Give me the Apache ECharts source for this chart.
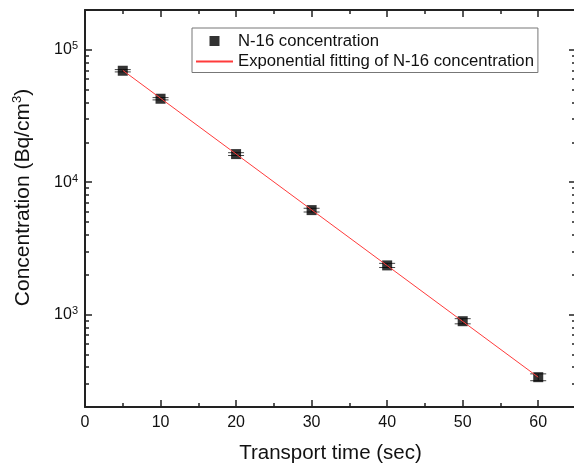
<!DOCTYPE html>
<html>
<head>
<meta charset="utf-8">
<script src="https://cdn.jsdelivr.net/npm/echarts@6.0.0/dist/echarts.min.js"></script>
<style>
    body { margin: 0; background: #fff; }
    #main { width: 574px; height: 467px; }
</style>
</head>
<body>
<div id="main"></div>
<script>
// N-16 measured points
var times = [5, 10, 20, 30, 40, 50, 60];
var conc = [69500, 42700, 16300, 6150, 2350, 890, 336];
var errs = [1400, 850, 400, 200, 85, 40, 20];
// exponential fit at both ends
var fitTimes = [5, 60];
var fitConc = [70000, 336];
// axis ticks
var xMajor = [0, 10, 20, 30, 40, 50, 60];
var xMinor = [5, 15, 25, 35, 45, 55];
var yMajor = [1000, 10000, 100000];
var yMinor = [200, 300, 400, 500, 600, 700, 800, 900,
    2000, 3000, 4000, 5000, 6000, 7000, 8000, 9000,
    20000, 30000, 40000, 50000, 60000, 70000, 80000, 90000, 200000];

(function () {
    var font = 'Liberation Sans, Arial, sans-serif';
    var ink = '#222';
    var fitColor = '#ff3b3b';
    var myChart = echarts.init(document.getElementById('main'));

    var pts = [];
    for (var i = 0; i < times.length; i++) {
        pts.push([times[i], conc[i], errs[i]]);
    }
    var fit = [];
    for (var j = 0; j < fitTimes.length; j++) {
        fit.push([fitTimes[j], fitConc[j]]);
    }

    // box frame: one axis for the long ticks, an overlay for the short ones
    function xAxis(pos, ticks, len, main) {
        return {
            type: 'value', position: pos, min: 0, max: 65,
            axisLine: { show: main, onZero: false, lineStyle: { color: ink, width: 2 } },
            axisTick: { inside: true, length: len, customValues: ticks, lineStyle: { color: ink, width: 1.5 } },
            axisLabel: { show: false },
            splitLine: { show: false }
        };
    }
    // onZero off, otherwise every y axis snaps onto x = 0
    function yAxis(pos, ticks, len, main) {
        return {
            type: 'log', logBase: 10, position: pos, min: 200, max: 200000,
            axisLine: { show: main, onZero: false, lineStyle: { color: ink, width: 2 } },
            axisTick: { inside: true, length: len, customValues: ticks, lineStyle: { color: ink, width: 1.5 } },
            axisLabel: { show: false },
            splitLine: { show: false }
        };
    }

    var bottom = xAxis('bottom', xMajor, 7, true);
    bottom.axisLabel = {
        show: true, customValues: xMajor, margin: 8,
        color: '#111', fontSize: 16, fontFamily: font
    };
    bottom.name = 'Transport time (sec)';
    bottom.nameLocation = 'middle';
    bottom.nameGap = 36;
    bottom.nameTextStyle = { color: '#111', fontSize: 20.5, fontFamily: font };

    var left = yAxis('left', yMajor, 7, true);
    left.axisLabel = {
        show: true, customValues: yMajor, margin: 7, color: '#111', fontFamily: font,
        formatter: function (v) {
            return '{b|10}{s|' + Math.round(Math.log(v) / Math.LN10) + '}';
        },
        rich: {
            b: { fontSize: 16, lineHeight: 18, color: '#111', fontFamily: font },
            s: { fontSize: 11, lineHeight: 8, verticalAlign: 'top', color: '#111', fontFamily: font }
        }
    };
    left.name = '{n|Concentration (Bq/cm}{s|3}{n|)}';
    left.nameLocation = 'middle';
    left.nameGap = 50;
    left.nameTextStyle = {
        padding: [0, 0, 0, 22],
        rich: {
            n: { fontSize: 21, lineHeight: 24, color: '#111', fontFamily: font },
            s: { fontSize: 13, lineHeight: 12, verticalAlign: 'top', color: '#111', fontFamily: font }
        }
    };

    option = {
        animation: false,
        backgroundColor: '#fff',
        grid: { left: 85, right: -2, top: 10, bottom: 60, outerBoundsMode: 'none' },
        legend: {
            orient: 'vertical',
            left: 192,
            top: 28,
            itemWidth: 37,
            itemHeight: 10,
            itemGap: 2.5,
            padding: [4, 4, 2, 3],
            borderColor: '#777',
            borderWidth: 1,
            symbolKeepAspect: true,
            textStyle: { fontSize: 16.7, lineHeight: 18, color: '#111', fontFamily: font },
            data: [
                { name: 'N-16 concentration', icon: 'path://M0,0h10v10h-10z', itemStyle: { color: '#000' } },
                // keep the line's own legend icon, just hide the dot it adds
                { name: 'Exponential fitting of N-16 concentration', itemStyle: { opacity: 0 } }
            ]
        },
        xAxis: [
            bottom,
            xAxis('bottom', xMinor, 4, false),
            xAxis('top', xMajor, 7, true),
            xAxis('top', xMinor, 4, false)
        ],
        yAxis: [
            left,
            yAxis('left', yMinor, 4, false),
            yAxis('right', yMajor, 7, true),
            yAxis('right', yMinor, 4, false)
        ],
        series: [
            {
                name: 'error',
                type: 'custom',
                z: 2,
                data: pts,
                encode: { x: 0, y: 1 },
                renderItem: function (params, api) {
                    var x = api.value(0), y = api.value(1), e = api.value(2);
                    var hi = api.coord([x, y + e]);
                    var lo = api.coord([x, y - e]);
                    var w = 8;
                    var st = { stroke: '#444', lineWidth: 1 };
                    return {
                        type: 'group',
                        children: [
                            { type: 'line', shape: { x1: hi[0], y1: hi[1], x2: lo[0], y2: lo[1] }, style: st },
                            { type: 'line', shape: { x1: hi[0] - w, y1: hi[1], x2: hi[0] + w, y2: hi[1] }, style: st },
                            { type: 'line', shape: { x1: lo[0] - w, y1: lo[1], x2: lo[0] + w, y2: lo[1] }, style: st }
                        ]
                    };
                }
            },
            {
                name: 'N-16 concentration',
                type: 'scatter',
                z: 3,
                symbol: 'rect',
                symbolSize: 10,
                itemStyle: { color: '#000' },
                data: pts
            },
            {
                name: 'Exponential fitting of N-16 concentration',
                type: 'line',
                z: 4,
                symbol: 'none',
                lineStyle: { color: fitColor, width: 1 },
                itemStyle: { color: fitColor },
                data: fit
            }
        ]
    };
    myChart.setOption(option);
})()
</script>
</body>
</html>
